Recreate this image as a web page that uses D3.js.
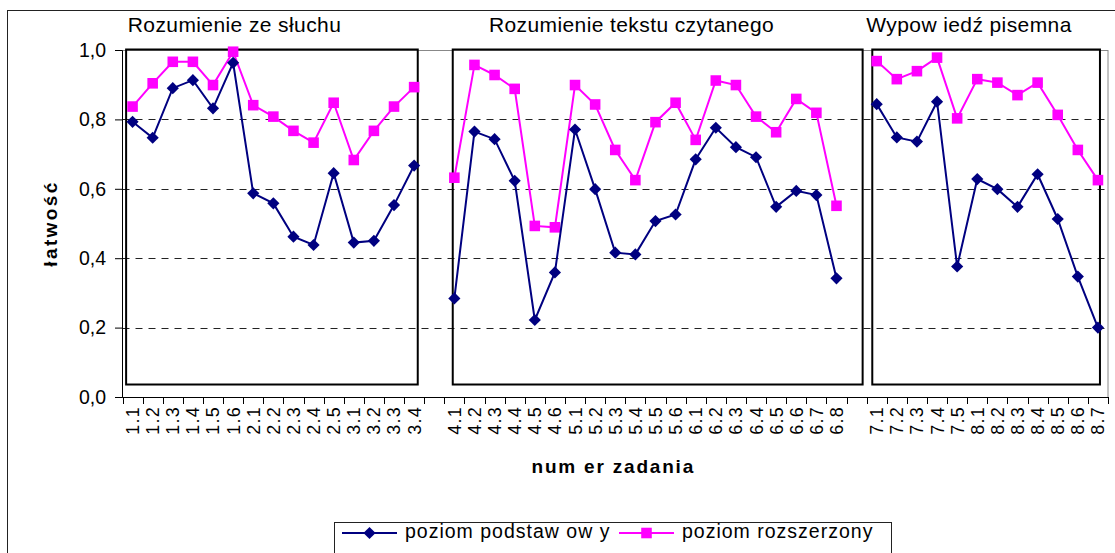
<!DOCTYPE html>
<html>
<head>
<meta charset="utf-8">
<script src="https://cdn.jsdelivr.net/npm/d3@7/dist/d3.min.js"></script>
<style>
    body { margin: 0; background: #fff; }
    svg text { font-family: "Liberation Sans", Arial, sans-serif; fill: #000; }
</style>
</head>
<body>
<script>
// categories of each section
const cat1 = ['1.1', '1.2', '1.3', '1.4', '1.5', '1.6', '2.1', '2.2', '2.3', '2.4', '2.5', '3.1', '3.2', '3.3', '3.4'];
const cat2 = ['4.1', '4.2', '4.3', '4.4', '4.5', '4.6', '5.1', '5.2', '5.3', '5.4', '5.5', '5.6', '6.1', '6.2', '6.3', '6.4', '6.5', '6.6', '6.7', '6.8'];
const cat3 = ['7.1', '7.2', '7.3', '7.4', '7.5', '8.1', '8.2', '8.3', '8.4', '8.5', '8.6', '8.7'];

// poziom podstawowy
const basic1 = [0.793, 0.747, 0.890, 0.913, 0.832, 0.963, 0.587, 0.558, 0.462, 0.438, 0.645, 0.445, 0.450, 0.553, 0.667];
const basic2 = [0.284, 0.765, 0.743, 0.623, 0.222, 0.359, 0.771, 0.599, 0.416, 0.411, 0.507, 0.526, 0.685, 0.776, 0.720, 0.691, 0.548, 0.594, 0.582, 0.342];
const basic3 = [0.844, 0.748, 0.736, 0.851, 0.376, 0.628, 0.599, 0.548, 0.642, 0.513, 0.347, 0.200];

// poziom rozszerzony
const ext1 = [0.837, 0.904, 0.966, 0.966, 0.899, 0.995, 0.841, 0.808, 0.767, 0.733, 0.848, 0.683, 0.767, 0.837, 0.893];
const ext2 = [0.632, 0.957, 0.928, 0.888, 0.493, 0.489, 0.899, 0.843, 0.712, 0.625, 0.792, 0.848, 0.741, 0.912, 0.899, 0.808, 0.763, 0.859, 0.819, 0.551];
const ext3 = [0.968, 0.916, 0.939, 0.978, 0.803, 0.916, 0.906, 0.870, 0.906, 0.813, 0.712, 0.625];

const sectionTitles = ['Rozumienie ze słuchu', 'Rozumienie tekstu czytanego', 'Wypow iedź pisemna'];
const yTicks = [0, 0.2, 0.4, 0.6, 0.8, 1.0];
const seriesNames = ['poziom podstaw ow y', 'poziom rozszerzony'];

const W = 1115, H = 553;
const plot = { left: 122.5, right: 1108, top: 50, bottom: 397 };
const navy = '#000080', pink = '#ff00ff';

// one empty slot between the sections
const domain = [...cat1, 'gap1', ...cat2, 'gap2', ...cat3];

const x = d3.scaleBand().domain(domain).range([plot.left, plot.right]).padding(0);
const y = d3.scaleLinear().domain([0, 1]).range([plot.bottom, plot.top]);
const xc = d => x(d) + x.bandwidth() / 2;

const svg = d3.select('body').append('svg')
    .attr('width', W)
    .attr('height', H);

//**** OUTER CHART BORDER */
svg.append('rect')
    .attr('x', 7.5).attr('y', 10.5)
    .attr('width', W + 20).attr('height', H + 20)
    .attr('fill', 'none').attr('stroke', '#222').attr('stroke-width', 1);

//******* GRID */
const grid_g = svg.append('g').attr('class', 'grid');
grid_g.selectAll('line')
    .data(yTicks.filter(t => t > 0 && t < 1))
    .join('line')
    .attr('x1', plot.left).attr('x2', plot.right)
    .attr('y1', d => Math.round(y(d)) + 0.5).attr('y2', d => Math.round(y(d)) + 0.5)
    .attr('stroke', '#222').attr('stroke-dasharray', '7,6');

// plot area border (grey)
svg.append('rect')
    .attr('x', plot.left).attr('y', plot.top + 0.5)
    .attr('width', plot.right - plot.left).attr('height', plot.bottom - plot.top)
    .attr('fill', 'none').attr('stroke', '#888').attr('stroke-width', 1);

//**** SECTION BOXES (drawn shapes) */
const boxes = [
    { from: cat1[0], to: cat1[cat1.length - 1], padL: 0.32, padR: 0.18 },
    { from: cat2[0], to: cat2[cat2.length - 1], padL: 0.08, padR: 1.3 },
    { from: cat3[0], to: cat3[cat3.length - 1], padL: 0.22, padR: 0.1 }
];
svg.append('g').attr('class', 'boxes_g')
    .selectAll('rect')
    .data(boxes)
    .join('rect')
    .attr('x', d => xc(d.from) - d.padL * x.bandwidth())
    .attr('y', y(1) - 0.5)
    .attr('width', d => xc(d.to) + d.padR * x.bandwidth() - (xc(d.from) - d.padL * x.bandwidth()))
    .attr('height', y(0.036) - y(1) + 0.5)
    .attr('fill', 'none').attr('stroke', '#000').attr('stroke-width', 2);

//******** AXIS */
const yAxis = d3.axisLeft(y)
    .tickValues(yTicks)
    .tickSize(7)
    .tickPadding(9)
    .tickFormat(d => d3.format('.1f')(d).replace('.', ','));

const yAxis_g = svg.append('g')
    .attr('transform', 'translate(' + (plot.left - 0.5) + ',0)')
    .call(yAxis);
yAxis_g.select('.domain').attr('stroke', '#000');
yAxis_g.selectAll('.tick line').attr('stroke', '#000');
yAxis_g.selectAll('.tick text')
    .style('font-size', '19.5px')
    .attr('fill', '#000');

// x axis: ticks on band edges, labels in band centres
const xAxis_g = svg.append('g').attr('class', 'x_axis');
xAxis_g.append('line')
    .attr('x1', plot.left).attr('x2', plot.right)
    .attr('y1', plot.bottom + 0.5).attr('y2', plot.bottom + 0.5)
    .attr('stroke', '#000');

const edges = domain.map(d => x(d)).concat([plot.right]);
xAxis_g.selectAll('line.tick')
    .data(edges)
    .join('line')
    .attr('class', 'tick')
    .attr('x1', d => Math.round(d) + 0.5).attr('x2', d => Math.round(d) + 0.5)
    .attr('y1', plot.bottom).attr('y2', plot.bottom + 7)
    .attr('stroke', '#000');

xAxis_g.selectAll('text')
    .data(domain.filter(d => !d.startsWith('gap')))
    .join('text')
    .attr('transform', d => 'translate(' + xc(d) + ',' + (plot.bottom + 9) + ') rotate(-90)')
    .attr('text-anchor', 'end')
    .attr('dy', '0.36em')
    .style('font-size', '18px')
    .style('letter-spacing', '1.2px')
    .text(d => d);

//**** AXIS TITLES */
svg.append('text')
    .attr('transform', 'translate(57,' + ((plot.top + plot.bottom) / 2) + ') rotate(-90)')
    .attr('text-anchor', 'middle')
    .style('font-size', '19px').style('font-weight', 'bold').style('letter-spacing', '2.4px')
    .text('łatwość');

svg.append('text')
    .attr('x', (plot.left + plot.right) / 2 - 2)
    .attr('y', 473)
    .attr('text-anchor', 'middle')
    .style('font-size', '19px').style('font-weight', 'bold').style('letter-spacing', '1.8px')
    .text('num er zadania');

//**** SECTION TITLES */
const titleCentres = [234.5, 631.5, 969];
svg.append('g').selectAll('text')
    .data(sectionTitles)
    .join('text')
    .attr('x', (d, i) => titleCentres[i])
    .attr('y', 32)
    .attr('text-anchor', 'middle')
    .style('font-size', '21px')
    .style('letter-spacing', '0.4px')
    .text(d => d);

//**** SERIES */
const line = d3.line().x(d => xc(d.c)).y(d => y(d.v));
const zipped = (cats, vals) => cats.map((c, i) => ({ c, v: vals[i] }));

const basicGroups = [zipped(cat1, basic1), zipped(cat2, basic2), zipped(cat3, basic3)];
const extGroups = [zipped(cat1, ext1), zipped(cat2, ext2), zipped(cat3, ext3)];

const diamond = d3.symbol(d3.symbolSquare, 74)();
const square = d3.symbol(d3.symbolSquare, 112)();

const ext_g = svg.append('g').attr('class', 'ext_g');
ext_g.selectAll('path.line')
    .data(extGroups)
    .join('path')
    .attr('class', 'line')
    .attr('d', line)
    .attr('fill', 'none').attr('stroke', pink).attr('stroke-width', 2);
ext_g.selectAll('path.mark')
    .data(extGroups.flat())
    .join('path')
    .attr('class', 'mark')
    .attr('transform', d => 'translate(' + xc(d.c) + ',' + y(d.v) + ')')
    .attr('d', square)
    .attr('fill', pink);

const basic_g = svg.append('g').attr('class', 'basic_g');
basic_g.selectAll('path.line')
    .data(basicGroups)
    .join('path')
    .attr('class', 'line')
    .attr('d', line)
    .attr('fill', 'none').attr('stroke', navy).attr('stroke-width', 2);
basic_g.selectAll('path.mark')
    .data(basicGroups.flat())
    .join('path')
    .attr('class', 'mark')
    .attr('transform', d => 'translate(' + xc(d.c) + ',' + y(d.v) + ') rotate(45)')
    .attr('d', diamond)
    .attr('fill', navy);

//**** LEGEND */
const legend_g = svg.append('g').attr('class', 'legend_g');
legend_g.append('rect')
    .attr('x', 334.5).attr('y', 522.5)
    .attr('width', 557).attr('height', 60)
    .attr('fill', '#fff').attr('stroke', '#222');

const legendItems = [
    { name: seriesNames[0], color: navy, mark: diamond, rot: 45, x: 342 },
    { name: seriesNames[1], color: pink, mark: square, rot: 0, x: 619 }
];
const li = legend_g.selectAll('g.item')
    .data(legendItems)
    .join('g')
    .attr('class', 'item')
    .attr('transform', d => 'translate(' + d.x + ',533)');
li.append('line')
    .attr('x1', 0).attr('x2', 55)
    .attr('stroke', d => d.color).attr('stroke-width', 2);
li.append('path')
    .attr('transform', d => 'translate(27.5,0) rotate(' + d.rot + ')')
    .attr('d', d => d.mark)
    .attr('fill', d => d.color);
li.append('text')
    .attr('x', 63).attr('y', 5)
    .style('font-size', '19.5px')
    .style('letter-spacing', '1px')
    .text(d => d.name);
</script>
</body>
</html>
